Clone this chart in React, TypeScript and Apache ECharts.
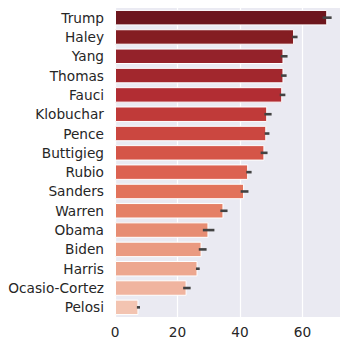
import React, { useEffect, useRef } from "react";
import * as echarts from "echarts";

const categories = [
  "Trump", "Haley", "Yang", "Thomas", "Fauci", "Klobuchar", "Pence", "Buttigieg",
  "Rubio", "Sanders", "Warren", "Obama", "Biden", "Harris", "Ocasio-Cortez", "Pelosi",
];
const values = [67.9, 57.3, 53.9, 53.9, 53.5, 48.7, 48.4, 47.8, 42.6, 41.3, 34.7, 29.9, 27.7, 26.4, 22.9, 7.5];
const ciLow = [66.4, 56.7, 53.0, 53.1, 52.7, 47.8, 47.9, 46.6, 42.0, 40.2, 33.7, 28.1, 26.8, 25.9, 21.8, 7.0];
const ciHigh = [69.3, 58.4, 55.2, 54.9, 54.5, 50.1, 49.4, 48.8, 43.7, 42.7, 36.0, 31.8, 29.3, 27.1, 24.2, 8.0];
const barColors = [
  "#6d161d", "#841d22", "#94222a", "#a2272d", "#b22d33", "#c03a39", "#cb4740", "#d55548",
  "#dc6251", "#e2735b", "#e58066", "#e78d73", "#ea9a81", "#eda78f", "#f0b49f", "#f3c4b1",
];
const xTicks = [0, 20, 40, 60];

export default function App() {
  const ref = useRef<HTMLDivElement>(null);
  useEffect(() => {
    if (!ref.current) return;
    const chart = echarts.init(ref.current, undefined, { renderer: "svg" });
    const font = "DejaVu Sans";
    chart.setOption({
      animation: false,
      backgroundColor: "#ffffff",
      grid: {
        left: 115,
        right: 7,
        top: 8,
        bottom: 31,
        show: true,
        backgroundColor: "#eaeaf2",
        borderWidth: 0,
      },
      xAxis: {
        type: "value",
        min: 0,
        max: 72.3,
        interval: 20,
        axisLine: { show: false },
        axisTick: { show: false },
        splitLine: { show: true, lineStyle: { color: "#ffffff", width: 1.2 } },
        axisLabel: {
          fontFamily: font,
          fontSize: 13.7,
          color: "#262626",
          margin: 8,
          showMaxLabel: false,
          formatter: (v: number) => (xTicks.includes(v) ? String(v) : ""),
        },
      },
      yAxis: {
        type: "category",
        data: categories,
        inverse: true,
        axisLine: { show: false },
        axisTick: { show: false },
        splitLine: { show: false },
        axisLabel: {
          fontFamily: font,
          fontSize: 13.7,
          color: "#262626",
          margin: 11,
        },
      },
      series: [
        {
          type: "bar",
          data: values.map((v, i) => ({
            value: v,
            itemStyle: { color: barColors[i] },
          })),
          barWidth: "80%",
          itemStyle: { borderColor: "#ffffff", borderWidth: 1 },
        },
        {
          type: "custom",
          data: categories.map((_, i) => [ciLow[i], ciHigh[i], i]),
          encode: { x: [0, 1], y: 2 },
          z: 10,
          renderItem: (params: any, api: any) => {
            const p1 = api.coord([api.value(0), api.value(2)]);
            const p2 = api.coord([api.value(1), api.value(2)]);
            return {
              type: "line",
              shape: { x1: p1[0], y1: p1[1], x2: p2[0], y2: p2[1] },
              style: { stroke: "#424242", lineWidth: 2.6 },
            };
          },
        },
      ],
    });
    return () => chart.dispose();
  }, []);
  return <div ref={ref} style={{ width: 348, height: 348, margin: -8 }} />;
}
